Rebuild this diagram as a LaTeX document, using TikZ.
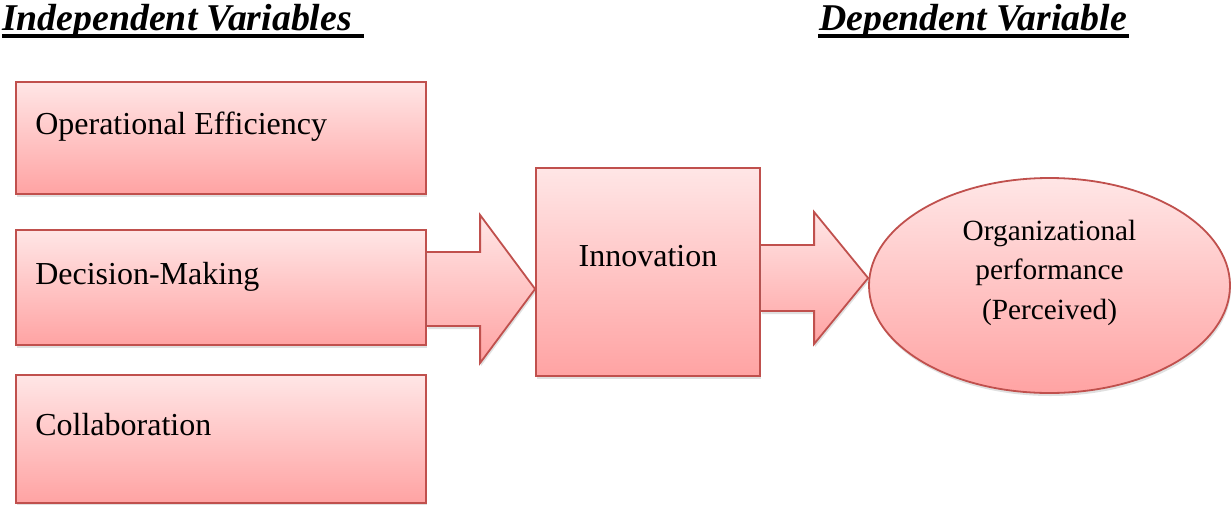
\documentclass[tikz,border=0pt]{standalone}
\usepackage{fontspec}
\setmainfont{Liberation Serif}
\usetikzlibrary{calc,shapes.geometric,shadows}
\definecolor{rimred}{RGB}{192,80,77}
\definecolor{filltop}{RGB}{255,230,230}
\definecolor{fillbot}{RGB}{255,163,163}
\begin{document}
\begin{tikzpicture}[x=1pt,y=-1pt,
  softshadow/.style={drop shadow={shadow xshift=1pt,shadow yshift=-3pt,opacity=0.2,fill=black!60}},
  pinkfill/.style={top color=filltop,bottom color=fillbot},
  varbox/.style={rectangle,draw=rimred,line width=1.8pt,pinkfill,inner sep=0pt,softshadow},
  bigarrow/.style={draw=rimred,line width=1.8pt,line join=miter,pinkfill,softshadow},
  boxtext/.style={font=\fontsize{32}{38}\selectfont,inner sep=0pt},
  ovaltext/.style={font=\fontsize{29.3}{39.5}\selectfont,align=center,inner sep=0pt},
  heading/.style={font=\fontsize{37.8}{44}\selectfont\bfseries\itshape,inner sep=0pt},
  rule/.style={line width=3.5pt}]
  \useasboundingbox[fill=white] (0,0) rectangle (1231,504);

  % headings with their underlines
  \node[heading,anchor=base west] (indh) at (2,30) {Independent Variables};
  \draw[rule] ($(indh.base west)+(0,6)$) -- ($(indh.base east)+(12,6)$);
  \node[heading,anchor=base west] (deph) at (819,30) {Dependent Variable};
  \draw[rule] ($(deph.base west)+(-1,6)$) -- ($(deph.base east)+(2,6)$);

  % independent variables
  \node[varbox,minimum width=410pt,minimum height=112pt] (oe) at (221,138) {};
  \node[boxtext,anchor=base west] (oe-t) at ($(oe.north west)+(20,53)$) {Operational Efficiency};
  \node[varbox,minimum width=410pt,minimum height=115pt] (dm) at (221,287.5) {};
  \node[boxtext,anchor=base west] (dm-t) at ($(dm.north west)+(20,55)$) {Decision-Making};
  \node[varbox,minimum width=410pt,minimum height=128pt] (col) at (221,439) {};
  \node[boxtext,anchor=base west] (col-t) at ($(col.north west)+(20,61)$) {Collaboration};

  % mediator
  \node[varbox,minimum width=224pt,minimum height=208pt] (inno) at (648,272) {};
  \node[boxtext,anchor=base] (inno-t) at ($(inno.north)+(0,99)$) {Innovation};

  % dependent variable
  \node[ellipse,draw=rimred,line width=1.8pt,pinkfill,softshadow,inner sep=0pt,
        minimum width=361pt,minimum height=215pt] (perf) at (1049.5,285.5) {};
  \node[ovaltext] (perf-t) at ($(perf.center)+(0,-13)$) {Organizational\\performance\\(Perceived)};

  % block arrows
  \coordinate (a1s) at ($(dm.east)+(0,1.5)$);
  \coordinate (a1e) at (inno.west |- a1s);
  \filldraw[bigarrow] ($(a1s)+(0,37)$) -- ($(a1e)+(-55,37)$) -- ($(a1e)+(-55,74)$)
    -- (a1e) -- ($(a1e)+(-55,-74)$) -- ($(a1e)+(-55,-37)$) -- ($(a1s)+(0,-37)$);

  \coordinate (a2e) at ($(perf.west)+(0,-7.5)$);
  \coordinate (a2s) at (inno.east |- a2e);
  \filldraw[bigarrow] ($(a2s)+(0,33)$) -- ($(a2e)+(-54,33)$) -- ($(a2e)+(-54,66)$)
    -- (a2e) -- ($(a2e)+(-54,-66)$) -- ($(a2e)+(-54,-33)$) -- ($(a2s)+(0,-33)$);
\end{tikzpicture}
\end{document}
